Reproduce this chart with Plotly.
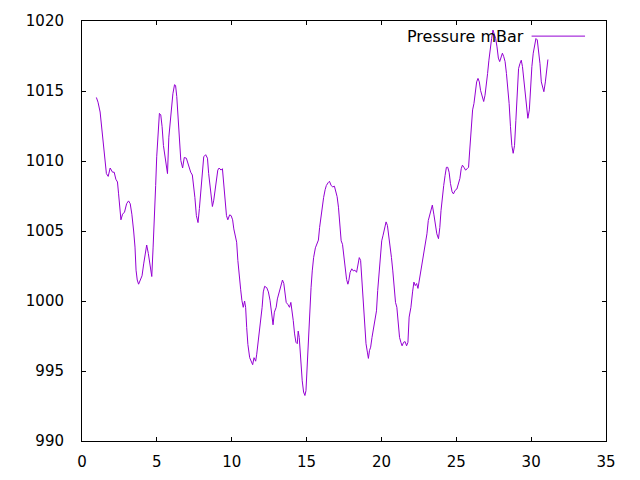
import plotly.graph_objects as go

# day of month vs pressure
day = [
    0.96, 1.07, 1.21, 1.30, 1.41, 1.48, 1.55, 1.63, 1.75, 1.88, 2.04, 2.15, 2.26, 2.37,
    2.44, 2.53, 2.60, 2.71, 2.84, 2.98, 3.11, 3.22, 3.33, 3.45, 3.54, 3.61, 3.69, 3.78,
    3.90, 4.01, 4.12, 4.23, 4.32, 4.43, 4.55, 4.66, 4.75, 4.84, 4.92, 4.99, 5.09, 5.17,
    5.26, 5.35, 5.44, 5.53, 5.62, 5.71, 5.80, 5.89, 5.98, 6.07, 6.18, 6.25, 6.33, 6.43,
    6.52, 6.60, 6.72, 6.83, 6.97, 7.10, 7.26, 7.37, 7.46, 7.54, 7.64, 7.75, 7.84, 7.95,
    8.04, 8.13, 8.26, 8.38, 8.46, 8.55, 8.65, 8.71, 8.80, 8.89, 8.98, 9.07, 9.16, 9.29,
    9.38, 9.45, 9.54, 9.65, 9.74, 9.86, 9.96, 10.06, 10.14, 10.23, 10.33, 10.41, 10.50,
    10.60, 10.68, 10.77, 10.86, 10.93, 11.00, 11.08, 11.20, 11.31, 11.40, 11.49, 11.60,
    11.67, 11.76, 11.84, 11.94, 12.03, 12.11, 12.20, 12.34, 12.45, 12.56, 12.67, 12.76,
    12.85, 12.97, 13.05, 13.17, 13.28, 13.39, 13.48, 13.57, 13.64, 13.75, 13.86, 13.95,
    14.02, 14.11, 14.20, 14.29, 14.38, 14.44, 14.51, 14.58, 14.64, 14.71, 14.80, 14.89,
    14.96, 15.03, 15.11, 15.20, 15.30, 15.38, 15.47, 15.59, 15.70, 15.79, 15.87, 15.97,
    16.06, 16.14, 16.24, 16.32, 16.44, 16.53, 16.64, 16.75, 16.86, 16.95, 17.04, 17.13,
    17.22, 17.31, 17.40, 17.49, 17.58, 17.67, 17.76, 17.82, 17.91, 18.02, 18.12, 18.23,
    18.34, 18.43, 18.52, 18.61, 18.70, 18.79, 18.88, 18.97, 19.06, 19.13, 19.20, 19.28,
    19.37, 19.46, 19.57, 19.67, 19.75, 19.84, 19.93, 20.02, 20.11, 20.20, 20.31, 20.40,
    20.49, 20.58, 20.67, 20.76, 20.85, 20.94, 21.03, 21.12, 21.21, 21.30, 21.38, 21.48,
    21.58, 21.68, 21.77, 21.85, 21.97, 22.08, 22.17, 22.26, 22.35, 22.44, 22.53, 22.62,
    22.73, 22.82, 22.93, 23.04, 23.13, 23.23, 23.31, 23.40, 23.50, 23.58, 23.70, 23.81,
    23.90, 23.98, 24.07, 24.16, 24.25, 24.34, 24.43, 24.52, 24.61, 24.72, 24.81, 24.92,
    25.04, 25.15, 25.24, 25.33, 25.41, 25.51, 25.62, 25.73, 25.82, 25.88, 25.95, 26.02,
    26.09, 26.18, 26.27, 26.36, 26.45, 26.54, 26.62, 26.72, 26.83, 26.92, 27.01, 27.09,
    27.18, 27.27, 27.36, 27.45, 27.54, 27.63, 27.72, 27.81, 27.90, 27.99, 28.08, 28.17,
    28.26, 28.35, 28.44, 28.53, 28.62, 28.71, 28.80, 28.89, 28.98, 29.07, 29.16, 29.25,
    29.34, 29.42, 29.51, 29.61, 29.69, 29.78, 29.88, 29.96, 30.05, 30.14, 30.23, 30.32,
    30.41, 30.50, 30.59, 30.68, 30.77, 30.85, 30.95, 31.04, 31.12,
]
pressure = [
    1014.54, 1014.2, 1013.5, 1012.56, 1011.5, 1011.0, 1010.05, 1009.1, 1008.9, 1009.5,
    1009.2, 1009.2, 1008.7, 1008.5, 1007.7, 1006.7, 1005.8, 1006.2, 1006.35, 1006.95,
    1007.15, 1006.95, 1006.2, 1005.0, 1003.85, 1002.2, 1001.5, 1001.2, 1001.6, 1001.8,
    1002.65, 1003.6, 1004.0, 1003.4, 1002.4, 1001.75, 1003.85, 1006.95, 1008.25, 1010.3,
    1012.45, 1013.4, 1013.3, 1012.45, 1011.1, 1010.4, 1009.55, 1009.1, 1011.7, 1012.8,
    1014.1, 1014.8, 1015.45, 1015.4, 1014.6, 1012.9, 1011.5, 1010.05, 1009.5, 1010.25,
    1010.2, 1009.7, 1009.2, 1009.0, 1008.25, 1007.4, 1006.1, 1005.6, 1006.6, 1007.9,
    1009.0, 1010.3, 1010.45, 1010.2, 1009.1, 1008.25, 1007.2, 1006.75, 1007.2, 1007.85,
    1008.4, 1009.35, 1009.5, 1009.35, 1009.45, 1008.4, 1007.3, 1006.1, 1005.8, 1006.15,
    1006.1, 1005.8, 1005.15, 1004.55, 1004.2, 1002.9, 1001.7, 1000.8, 1000.05, 999.55,
    1000.0, 999.55, 998.1, 996.9, 995.95, 995.6, 995.45, 995.95, 995.7, 996.2,
    997.05, 997.9, 998.4, 999.55, 1000.65, 1001.05, 1000.95, 1000.65, 1000.05, 999.1,
    998.3, 999.2, 999.55, 1000.15, 1000.65, 1001.1, 1001.5, 1001.25, 1000.5, 999.9,
    999.75, 999.55, 999.9, 999.45, 998.6, 997.65, 997.05, 996.95, 997.85, 997.4,
    996.2, 994.75, 994.3, 993.5, 993.25, 993.6, 995.25, 997.05, 999.55, 1000.95,
    1002.15, 1003.1, 1003.8, 1004.05, 1004.35, 1005.25, 1006.2, 1006.95, 1007.4, 1007.95,
    1008.25, 1008.45, 1008.55, 1008.25, 1008.15, 1008.2, 1007.9, 1007.45, 1006.7, 1005.75,
    1004.3, 1004.05, 1003.1, 1002.15, 1001.55, 1001.2, 1001.45, 1002.05, 1002.3, 1002.15,
    1002.2, 1002.05, 1002.65, 1003.1, 1002.9, 1001.2, 999.55, 998.4, 996.95, 996.35,
    995.9, 996.45, 996.7, 997.4, 998.0, 998.6, 999.3, 1000.75, 1001.95, 1003.1,
    1004.3, 1004.7, 1005.25, 1005.65, 1005.4, 1004.7, 1004.0, 1003.1, 1002.15, 1001.2,
    999.9, 999.55, 998.1, 997.4, 997.05, 996.8, 997.05, 997.1, 996.8, 997.05,
    998.85, 999.55, 1000.65, 1001.35, 1001.1, 1001.25, 1000.9, 1001.5, 1002.05, 1002.8,
    1003.4, 1004.0, 1004.8, 1005.75, 1006.2, 1006.6, 1006.85, 1006.2, 1005.5, 1004.8,
    1004.45, 1005.25, 1006.45, 1007.55, 1008.25, 1008.95, 1009.55, 1009.55, 1009.2, 1008.4,
    1007.8, 1007.65, 1007.9, 1008.0, 1008.4, 1008.75, 1009.45, 1009.7, 1009.55, 1009.35,
    1009.45, 1009.55, 1010.5, 1011.5, 1012.45, 1013.65, 1014.1, 1014.8, 1015.65, 1015.9,
    1015.65, 1015.05, 1014.7, 1014.25, 1014.7, 1015.4, 1016.25, 1017.2, 1018.15, 1018.75,
    1019.35, 1019.1, 1018.75, 1018.15, 1017.35, 1017.1, 1017.45, 1017.7, 1017.45, 1017.1,
    1016.25, 1015.3, 1014.1, 1012.45, 1011.1, 1010.55, 1011.1, 1012.9, 1015.05, 1016.6,
    1016.95, 1017.2, 1016.75, 1015.8, 1015.05, 1014.0, 1013.05, 1013.65, 1015.3, 1016.75,
    1017.7, 1018.4, 1018.75, 1018.65, 1017.95, 1016.95, 1015.65, 1015.3, 1014.95, 1015.65,
    1016.5, 1017.25,
]

line_colour = '#9400d3'
font = dict(family='DejaVu Sans', size=15, color='black')

fig = go.Figure(
    go.Scatter(x=day, y=pressure, mode='lines', name='Pressure mBar',
               line=dict(color=line_colour, width=1))
)

axis_style = dict(
    showgrid=False, zeroline=False, automargin=False,
    showline=True, linecolor='black', linewidth=1, mirror='allticks',
    ticks='inside', ticklen=4, tickcolor='black', tickwidth=1,
    tickfont=font,
)

fig.update_xaxes(range=[0, 35], dtick=5, tick0=0, ticklabelstandoff=7, **axis_style)
fig.update_yaxes(range=[990, 1020], dtick=5, tick0=990, ticklabelstandoff=14, **axis_style)

# gnuplot-style key: text first, then the line sample
fig.add_annotation(x=0.848, y=0.964, xref='paper', yref='paper', text='Pressure mBar',
                   showarrow=False, xanchor='right', yanchor='middle',
                   font=dict(family='DejaVu Sans', size=16, color='black'))
fig.add_shape(type='line', xref='paper', yref='paper', x0=0.858, x1=0.960, y0=0.964, y1=0.964,
              line=dict(color=line_colour, width=1))

# the page body adds an 8px offset, so the figure is 8px smaller and margins shifted
fig.update_layout(
    width=632, height=472,
    margin=dict(l=74, r=34, t=13, b=39, autoexpand=False),
    paper_bgcolor='white', plot_bgcolor='white',
    showlegend=False,
    font=font,
)

fig.write_html("out.html")
